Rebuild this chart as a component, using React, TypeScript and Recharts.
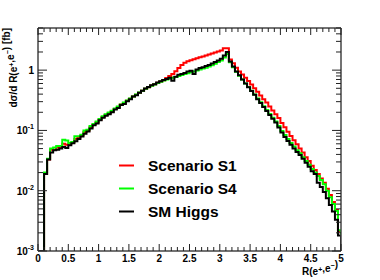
import React from 'react';
import { LineChart, Line, XAxis, YAxis, Legend } from 'recharts';

// ---- data -------------------------------------------------------------
const BIN_WIDTH = 0.05;
const X_MIN = 0;
const X_MAX = 5;
const Y_MIN = 0.001;
const Y_MAX = 5;

// lower edges of the 100 histogram bins (0, 0.05, ..., 4.95)
const BIN_EDGES: number[] = Array.from({ length: 100 }, (_, i) => Math.round(i * BIN_WIDTH * 100) / 100);

const SM_HIGGS = [
  0, 0, 0.019, 0.033, 0.043, 0.047, 0.048, 0.050, 0.053, 0.051,
  0.057, 0.061, 0.066, 0.072, 0.079, 0.088, 0.096, 0.108, 0.122, 0.130,
  0.148, 0.162, 0.176, 0.186, 0.200, 0.222, 0.236, 0.265, 0.275, 0.305,
  0.328, 0.365, 0.385, 0.420, 0.455, 0.495, 0.525, 0.560, 0.585, 0.625,
  0.655, 0.685, 0.715, 0.750, 0.665, 0.780, 0.835, 0.865, 0.900, 0.945,
  0.975, 0.860, 1.020, 1.080, 1.120, 1.170, 1.220, 1.290, 1.360, 1.450,
  1.550, 1.750, 2.000, 1.390, 1.150, 0.950, 0.820, 0.700, 0.600, 0.520,
  0.450, 0.390, 0.330, 0.285, 0.245, 0.210, 0.180, 0.156, 0.135, 0.112,
  0.092, 0.078, 0.067, 0.058, 0.050, 0.044, 0.039, 0.034, 0.029, 0.025,
  0.021, 0.019, 0.0135, 0.0115, 0.0095, 0.0075, 0.0058, 0.0045, 0.0033, 0.0018,
];

const SCENARIO_S4 = [
  0, 0, 0.020, 0.034, 0.050, 0.052, 0.055, 0.055, 0.070, 0.068,
  0.062, 0.064, 0.080, 0.080, 0.085, 0.100, 0.103, 0.118, 0.128, 0.140,
  0.155, 0.172, 0.185, 0.198, 0.212, 0.230, 0.250, 0.270, 0.290, 0.315,
  0.340, 0.365, 0.395, 0.425, 0.455, 0.490, 0.520, 0.550, 0.580, 0.610,
  0.640, 0.670, 0.700, 0.720, 0.745, 0.770, 0.800, 0.830, 0.860, 0.890,
  0.920, 0.950, 0.985, 1.020, 1.060, 1.100, 1.150, 1.210, 1.280, 1.360,
  1.450, 1.620, 1.850, 1.350, 1.120, 0.940, 0.810, 0.700, 0.600, 0.525,
  0.455, 0.395, 0.340, 0.292, 0.252, 0.218, 0.188, 0.162, 0.140, 0.118,
  0.098, 0.084, 0.072, 0.062, 0.054, 0.047, 0.042, 0.036, 0.031, 0.027,
  0.023, 0.020, 0.0175, 0.0150, 0.0128, 0.0100, 0.0078, 0.0060, 0.0046, 0.0022,
];

const SCENARIO_S1 = [
  0, 0, 0.019, 0.033, 0.048, 0.048, 0.052, 0.053, 0.060, 0.058,
  0.060, 0.063, 0.072, 0.076, 0.082, 0.094, 0.100, 0.113, 0.125, 0.135,
  0.152, 0.167, 0.181, 0.192, 0.206, 0.226, 0.243, 0.268, 0.283, 0.310,
  0.334, 0.365, 0.390, 0.422, 0.455, 0.492, 0.522, 0.555, 0.582, 0.617,
  0.650, 0.680, 0.740, 0.800, 0.860, 0.960, 1.090, 1.220, 1.320, 1.400,
  1.460, 1.520, 1.570, 1.630, 1.690, 1.750, 1.820, 1.890, 1.960, 2.030,
  2.120, 2.300, 2.300, 1.500, 1.300, 1.100, 0.950, 0.850, 0.750, 0.660,
  0.580, 0.500, 0.440, 0.380, 0.330, 0.290, 0.250, 0.215, 0.185, 0.160,
  0.133, 0.113, 0.095, 0.081, 0.069, 0.059, 0.050, 0.043, 0.036, 0.031,
  0.026, 0.022, 0.019, 0.016, 0.0135, 0.0108, 0.0085, 0.0065, 0.0048, 0.0021,
];

const SERIES_NAMES = ['Scenario S1', 'Scenario S4', 'SM Higgs'];
const SERIES_COLORS = ['#ff0000', '#00ff00', '#000000'];
const SERIES_KEYS = ['s1', 's4', 'sm'];
const SERIES_VALUES = [SCENARIO_S1, SCENARIO_S4, SM_HIGGS];

const X_TICKS = Array.from({ length: 51 }, (_, i) => i / 10);
const Y_TICKS: number[] = [];
for (let k = -3; k <= 0; k++) {
  for (let m = 1; m <= 9; m++) {
    const v = Number((m * Math.pow(10, k)).toPrecision(3));
    if (v <= Y_MAX) Y_TICKS.push(v);
  }
}

const Y_TITLE = 'dσ/d R(e+,e−) [fb]';
const X_TITLE = 'R(e+,e−)';

// ---- table built for the library -------------------------------------------
const TABLE = [
  ...BIN_EDGES.map((x, i) => {
    const row: Record<string, number> = { x };
    SERIES_KEYS.forEach((k, s) => {
      row[k] = Math.max(SERIES_VALUES[s][i], Y_MIN);
    });
    return row;
  }),
  (() => {
    const row: Record<string, number> = { x: X_MAX };
    SERIES_KEYS.forEach((k) => (row[k] = Y_MIN));
    return row;
  })(),
];

// ---- styling helpers --------------------------------------------------------
const FONT = "'Liberation Sans', Arial, Helvetica, sans-serif";
const TICK_COLOR = '#222';
const FRAME = '#444';

const isHalf = (v: number) => Math.abs(v * 2 - Math.round(v * 2)) < 1e-6;
const isDecade = (v: number) => Math.abs(Math.log10(v) - Math.round(Math.log10(v))) < 1e-6;

const XTickBottom = (props: any) => {
  const { x, y, payload } = props;
  const v = payload.value as number;
  const major = isHalf(v);
  const len = major ? 7 : 4;
  return (
    <g>
      <line x1={x} y1={y} x2={x} y2={y - len} stroke={TICK_COLOR} strokeWidth={1} />
      {major && (
        <text x={x} y={y + 11} textAnchor="middle" fontSize={10} fontWeight="bold" fontFamily={FONT} fill="#000">
          {String(v)}
        </text>
      )}
    </g>
  );
};

const XTickTop = (props: any) => {
  const { x, y, payload } = props;
  const v = payload.value as number;
  const len = isHalf(v) ? 7 : 4;
  return <line x1={x} y1={y} x2={x} y2={y + len} stroke={TICK_COLOR} strokeWidth={1} />;
};

const YTickLeft = (props: any) => {
  const { x, y, payload } = props;
  const v = payload.value as number;
  const major = isDecade(v);
  const len = major ? 9 : 5;
  const exp = Math.round(Math.log10(v));
  return (
    <g>
      <line x1={x} y1={y} x2={x + len} y2={y} stroke={TICK_COLOR} strokeWidth={1} />
      {major && (
        <text x={x - 4} y={y + 4} textAnchor="end" fontSize={10} fontWeight="bold" fontFamily={FONT} fill="#000">
          {exp === 0 ? (
            '1'
          ) : (
            <>
              10
              <tspan fontSize={7} dy={-5}>
                {String(exp)}
              </tspan>
            </>
          )}
        </text>
      )}
    </g>
  );
};

const YTickRight = (props: any) => {
  const { x, y, payload } = props;
  const v = payload.value as number;
  const len = isDecade(v) ? 9 : 5;
  return <line x1={x} y1={y} x2={x - len} y2={y} stroke={TICK_COLOR} strokeWidth={1} />;
};

const renderSup = (s: string) => {
  const parts: React.ReactNode[] = [];
  let buf = '';
  let key = 0;
  for (const ch of s) {
    if (ch === '+' || ch === '−') {
      if (buf) parts.push(<tspan key={key++}>{buf}</tspan>);
      buf = '';
      parts.push(
        <tspan key={key++} fontSize={7} dy={-3.5}>
          {ch}
        </tspan>
      );
      parts.push(<tspan key={key++} dy={3.5}>{''}</tspan>);
    } else {
      buf += ch;
    }
  }
  if (buf) parts.push(<tspan key={key++}>{buf}</tspan>);
  return parts;
};

const YTitle = (props: any) => {
  const vb = props.viewBox || { x: 0, y: 28 };
  const bx = vb.x + 17;
  const by = vb.y;
  return (
    <text transform="rotate(-90)" x={-by} y={bx} textAnchor="end" fontSize={10} fontWeight="bold" fontFamily={FONT} fill="#000">
      {renderSup(Y_TITLE)}
    </text>
  );
};

const XTitle = (props: any) => {
  const vb = props.viewBox || { x: 38, y: 251, width: 303 };
  return (
    <text x={vb.x + vb.width - 3} y={vb.y + 24} textAnchor="end" fontSize={10} fontWeight="bold" fontFamily={FONT} fill="#000">
      {renderSup(X_TITLE)}
    </text>
  );
};

const LegendBox = () => (
  <svg width={380} height={280} style={{ position: 'absolute', left: 0, top: 0 }}>
    {SERIES_NAMES.map((name, i) => {
      const cy = 165.5 + i * 23;
      return (
        <g key={name}>
          <line x1={119} x2={134} y1={cy} y2={cy} stroke={SERIES_COLORS[i]} strokeWidth={2} />
          <text x={148} y={cy + 5.5} fontSize={15.5} fontWeight="bold" fontFamily={FONT} fill="#000">
            {name}
          </text>
        </g>
      );
    })}
  </svg>
);

export default function App() {
  return (
    <div style={{ position: 'absolute', left: 0, top: 0, width: 380, height: 280, background: '#fff' }}>
      <LineChart width={380} height={280} data={TABLE} margin={{ top: 0, right: 0, bottom: 0, left: 0 }}>
        <XAxis
          xAxisId="b"
          dataKey="x"
          type="number"
          domain={[X_MIN, X_MAX]}
          ticks={X_TICKS}
          interval={0}
          height={29}
          tickSize={0}
          tickMargin={0}
          tickLine={false}
          tick={<XTickBottom />}
          axisLine={{ stroke: FRAME, strokeWidth: 1.5 }}
          allowDataOverflow
          label={<XTitle />}
        />
        <XAxis
          xAxisId="t"
          dataKey="x"
          orientation="top"
          type="number"
          domain={[X_MIN, X_MAX]}
          ticks={X_TICKS}
          interval={0}
          height={28}
          tickSize={0}
          tickMargin={0}
          tickLine={false}
          tick={<XTickTop />}
          axisLine={{ stroke: FRAME, strokeWidth: 1.5 }}
          allowDataOverflow
        />
        <YAxis
          yAxisId="l"
          scale="log"
          type="number"
          domain={[Y_MIN, Y_MAX]}
          ticks={Y_TICKS}
          interval={0}
          width={38}
          tickSize={0}
          tickMargin={0}
          tickLine={false}
          tick={<YTickLeft />}
          axisLine={{ stroke: FRAME, strokeWidth: 1.5 }}
          allowDataOverflow
          label={<YTitle />}
        />
        <YAxis
          yAxisId="r"
          dataKey="sm"
          orientation="right"
          scale="log"
          type="number"
          domain={[Y_MIN, Y_MAX]}
          ticks={Y_TICKS}
          interval={0}
          width={39}
          tickSize={0}
          tickMargin={0}
          tickLine={false}
          tick={<YTickRight />}
          axisLine={{ stroke: FRAME, strokeWidth: 1.5 }}
          allowDataOverflow
        />
        {SERIES_KEYS.map((k, i) => (
          <Line
            key={k}
            xAxisId="b"
            yAxisId="l"
            dataKey={k}
            name={SERIES_NAMES[i]}
            type="stepAfter"
            stroke={SERIES_COLORS[i]}
            strokeWidth={2}
            dot={false}
            activeDot={false}
            isAnimationActive={false}
          />
        ))}
        <Legend
          verticalAlign="middle"
          align="center"
          layout="horizontal"
          wrapperStyle={{ position: 'absolute', left: 0, top: 0, width: 380, height: 280, pointerEvents: 'none' }}
          content={() => <LegendBox />}
        />
      </LineChart>
    </div>
  );
}
